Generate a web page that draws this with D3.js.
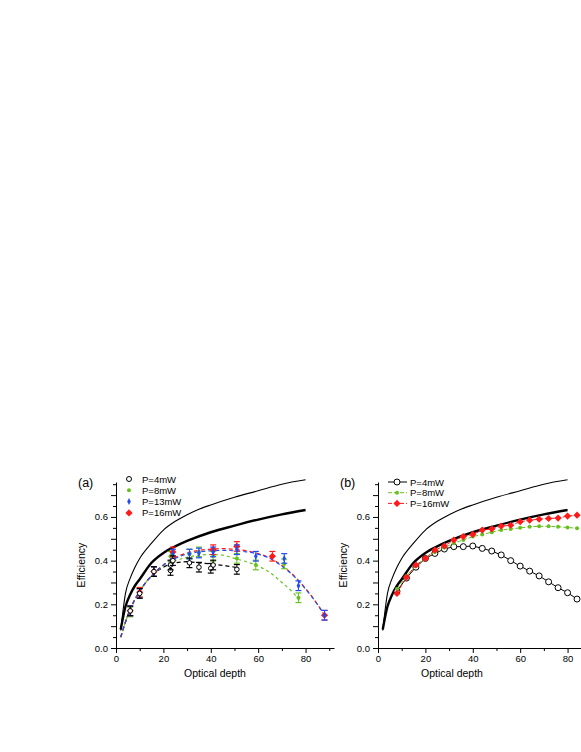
<!DOCTYPE html>
<html lang="en">
<head>
<meta charset="UTF-8">
<title>Efficiency vs optical depth</title>
<script src="https://d3js.org/d3.v7.min.js"></script>
<style>
  body { margin: 0; background: #fff; }
  svg { display: block; font-family: "Liberation Sans", Arial, sans-serif; }
  .axis path, .axis line { stroke: #000; stroke-width: 1; }
  .axis text { font-size: 9.5px; fill: #000; }
</style>
</head>
<body>
<svg width="581" height="752"></svg>
<script>
// ---- theory curves (same in both panels)
const thinX = [2, 4, 6, 8, 10, 15, 20, 25, 30, 35, 40, 50, 60, 70, 80];
const thinY = [0.08, 0.25, 0.32, 0.37, 0.41, 0.48, 0.54, 0.58, 0.61, 0.635, 0.655, 0.69, 0.72, 0.75, 0.77];
const thickX = [2, 4, 6, 8, 10, 15, 20, 25, 30, 40, 50, 60, 70, 80];
const thickY = [0.085, 0.19, 0.245, 0.285, 0.315, 0.39, 0.435, 0.465, 0.49, 0.53, 0.56, 0.588, 0.612, 0.632];

// ---- panel (a): measurements with error bars
const a4X = [6, 10, 16, 23, 23, 24, 31, 35, 40, 41, 51];
const a4Y = [0.17, 0.25, 0.35, 0.355, 0.38, 0.40, 0.39, 0.37, 0.365, 0.38, 0.36];
const a8X = [6, 10, 16, 23, 31, 35, 41, 51, 59, 71, 77];
const a8Y = [0.165, 0.255, 0.35, 0.42, 0.43, 0.44, 0.42, 0.41, 0.38, 0.385, 0.23];
const a13X = [6, 10, 16, 24, 31, 35, 41, 51, 59, 71, 77, 88];
const a13Y = [0.17, 0.25, 0.35, 0.43, 0.43, 0.435, 0.44, 0.45, 0.42, 0.41, 0.285, 0.15];
const a16X = [6, 10, 16, 24, 41, 51, 66, 88];
const a16Y = [0.17, 0.255, 0.35, 0.44, 0.45, 0.465, 0.42, 0.15];
const errA = 0.022;

// ---- panel (a): dashed fits
const fit4X = [2, 5, 10, 15, 20, 25, 30, 35, 40, 45, 50, 52];
const fit4Y = [0.05, 0.15, 0.26, 0.33, 0.37, 0.39, 0.395, 0.39, 0.385, 0.378, 0.37, 0.365];
const fit8X = [2, 5, 10, 15, 20, 25, 30, 35, 40, 45, 50, 55, 60, 65, 70, 75, 78];
const fit8Y = [0.05, 0.15, 0.26, 0.33, 0.375, 0.40, 0.415, 0.425, 0.428, 0.425, 0.41, 0.395, 0.375, 0.345, 0.30, 0.25, 0.21];
const fit13X = [2, 5, 10, 15, 20, 25, 30, 35, 40, 45, 50, 55, 60, 65, 70, 75, 80, 85, 88];
const fit13Y = [0.05, 0.15, 0.26, 0.33, 0.38, 0.41, 0.43, 0.44, 0.445, 0.447, 0.445, 0.44, 0.43, 0.41, 0.375, 0.33, 0.27, 0.20, 0.15];
const fit16Y = [0.05, 0.15, 0.26, 0.33, 0.38, 0.415, 0.435, 0.447, 0.452, 0.455, 0.452, 0.445, 0.432, 0.412, 0.378, 0.332, 0.272, 0.20, 0.15];

// ---- panel (b): simulations
const bX = [8, 12, 16, 20, 24, 28, 32, 36, 40, 44, 48, 52, 56, 60, 64, 68, 72, 76, 80, 84];
const b4Y = [0.26, 0.32, 0.37, 0.41, 0.433, 0.453, 0.464, 0.464, 0.467, 0.456, 0.444, 0.426, 0.40, 0.375, 0.352, 0.33, 0.303, 0.276, 0.253, 0.224];
const b8Y = [0.27, 0.33, 0.375, 0.41, 0.44, 0.46, 0.48, 0.495, 0.51, 0.52, 0.53, 0.54, 0.545, 0.55, 0.555, 0.557, 0.557, 0.555, 0.552, 0.548];
const b16Y = [0.25, 0.324, 0.38, 0.41, 0.448, 0.467, 0.494, 0.51, 0.52, 0.54, 0.545, 0.558, 0.562, 0.578, 0.585, 0.59, 0.593, 0.595, 0.604, 0.608];

const legendA = ["P=4mW", "P=8mW", "P=13mW", "P=16mW"];
const legendB = ["P=4mW", "P=8mW", "P=16mW"];

const BLACK = "#000", GREEN = "#66c21f", BLUE = "#1f4cf0", RED = "#ff1a1a";

const svg = d3.select("svg");
svg.append("rect").attr("width", 581).attr("height", 752).attr("fill", "#fff");

const y = d3.scaleLinear().domain([0, 0.76]).range([648, 482]);
const xa = d3.scaleLinear().domain([0, 92]).range([116, 334]);
const xb = d3.scaleLinear().domain([0, 92]).range([378, 596]);

const zip = (xs, ys) => xs.map((v, i) => [v, ys[i]]);

function drawAxes(x, label, titleX) {
  const g = svg.append("g");
  // minor ticks
  g.append("g").attr("class", "axis").attr("transform", `translate(0,${y(0)})`)
    .call(d3.axisBottom(x).tickValues(d3.range(10, 91, 20)).tickSize(3).tickFormat(""))
    .call(s => s.select(".domain").remove());
  g.append("g").attr("class", "axis").attr("transform", `translate(0,${y(0)})`)
    .call(d3.axisBottom(x).tickValues(d3.range(0, 81, 20)).tickSize(5).tickSizeOuter(0).tickPadding(2));
  g.append("g").attr("class", "axis").attr("transform", `translate(${x(0)},0)`)
    .call(d3.axisLeft(y).tickValues(d3.range(0.05, 0.76, 0.1)).tickSize(3).tickFormat(""))
    .call(s => s.select(".domain").remove());
  g.append("g").attr("class", "axis").attr("transform", `translate(${x(0)},0)`)
    .call(d3.axisLeft(y).tickValues([0, 0.1, 0.2, 0.3, 0.4, 0.5, 0.6, 0.7])
      .tickSize(5).tickSizeOuter(0).tickPadding(3)
      .tickFormat(d => [0, 0.2, 0.4, 0.6].some(v => Math.abs(v - d) < 1e-6) ? d3.format(".1f")(d) : ""));
  g.append("text").attr("x", titleX).attr("y", 677).attr("text-anchor", "middle")
    .attr("font-size", 10.5).text("Optical depth");
  g.append("text").attr("transform", `translate(${x(0) - 31},${y(0.38)}) rotate(-90)`)
    .attr("text-anchor", "middle").attr("font-size", 10.5).text("Efficiency");
  g.append("text").attr("x", x(0) - 38).attr("y", 487).attr("font-size", 12.5).text(label);
}

function drawTheory(x) {
  const line = d3.line().x(d => x(d[0])).y(d => y(d[1])).curve(d3.curveMonotoneX);
  svg.append("path").datum(zip(thinX, thinY)).attr("d", line)
    .attr("fill", "none").attr("stroke", BLACK).attr("stroke-width", 1.1);
  svg.append("path").datum(zip(thickX, thickY)).attr("d", line)
    .attr("fill", "none").attr("stroke", BLACK).attr("stroke-width", 2.4);
}

function marker(g, kind, color, cx, cy, r) {
  if (kind === "circle") {
    g.append("circle").attr("cx", cx).attr("cy", cy).attr("r", r || 3)
      .attr("fill", "#fff").attr("stroke", color).attr("stroke-width", 1);
  } else if (kind === "dot") {
    g.append("circle").attr("cx", cx).attr("cy", cy).attr("r", 2)
      .attr("fill", color);
  } else if (kind === "thin") {
    g.append("path").attr("d", `M${cx},${cy - 3.5}L${cx + 1.8},${cy}L${cx},${cy + 3.5}L${cx - 1.8},${cy}Z`)
      .attr("fill", color);
  } else {
    g.append("path").attr("d", `M${cx},${cy - 3.6}L${cx + 3.6},${cy}L${cx},${cy + 3.6}L${cx - 3.6},${cy}Z`)
      .attr("fill", color);
  }
}

// ---------------- panel (a)
drawAxes(xa, "(a)", 215);
drawTheory(xa);

const fitLine = d3.line().x(d => xa(d[0])).y(d => y(d[1])).curve(d3.curveMonotoneX);
[[fit4X, fit4Y, BLACK, "4,3"], [fit8X, fit8Y, GREEN, "3,3"],
 [fit13X, fit16Y, RED, "4,3"], [fit13X, fit13Y, BLUE, "4,3"]].forEach(([xs, ys, c, dash]) => {
  svg.append("path").datum(zip(xs, ys)).attr("d", fitLine)
    .attr("fill", "none").attr("stroke", c).attr("stroke-width", 1.2).attr("stroke-dasharray", dash);
});

const seriesA = [
  [a8X, a8Y, GREEN, "dot"],
  [a16X, a16Y, RED, "diamond"],
  [a13X, a13Y, BLUE, "thin"],
  [a4X, a4Y, BLACK, "circle"]
];
seriesA.forEach(([xs, ys, c, kind]) => {
  const g = svg.append("g");
  xs.forEach((xv, i) => {
    const cx = xa(xv), y0 = y(ys[i] - errA), y1 = y(ys[i] + errA);
    g.append("line").attr("x1", cx).attr("x2", cx).attr("y1", y0).attr("y2", y1)
      .attr("stroke", c).attr("stroke-width", 1);
    [y0, y1].forEach(yy => g.append("line").attr("x1", cx - 3).attr("x2", cx + 3)
      .attr("y1", yy).attr("y2", yy).attr("stroke", c).attr("stroke-width", 1.2));
    marker(g, kind, c, cx, y(ys[i]), 2.3);
  });
});

const legAKinds = [["circle", BLACK], ["dot", GREEN], ["thin", BLUE], ["diamond", RED]];
legendA.forEach((t, i) => {
  const yy = 479 + i * 11.3;
  marker(svg, legAKinds[i][0], legAKinds[i][1], 129, yy, 2.5);
  svg.append("text").attr("x", 142).attr("y", yy + 3.5).attr("font-size", 9.5).text(t);
});

// ---------------- panel (b)
drawAxes(xb, "(b)", 452);
drawTheory(xb);

const simLine = d3.line().x(d => xb(d[0])).y(d => y(d[1]));
const seriesB = [
  [b4Y, BLACK, "circle", null],
  [b8Y, GREEN, "dot", "4,2"],
  [b16Y, RED, "diamond", "4,2"]
];
seriesB.forEach(([ys, c, kind, dash]) => {
  svg.append("path").datum(zip(bX, ys)).attr("d", simLine)
    .attr("fill", "none").attr("stroke", c).attr("stroke-width", 1)
    .attr("stroke-dasharray", dash);
  const g = svg.append("g");
  bX.forEach((xv, i) => marker(g, kind, c, xb(xv), y(ys[i]), 3));
});

legendB.forEach((t, i) => {
  const yy = 482 + i * 10.7;
  const [ys, c, kind, dash] = seriesB[i];
  svg.append("line").attr("x1", 388).attr("x2", 407).attr("y1", yy).attr("y2", yy)
    .attr("stroke", c).attr("stroke-width", 1).attr("stroke-dasharray", dash);
  marker(svg, kind, c, 397, yy, 3);
  svg.append("text").attr("x", 410).attr("y", yy + 3.5).attr("font-size", 9.5).text(t);
});
</script>
</body>
</html>
